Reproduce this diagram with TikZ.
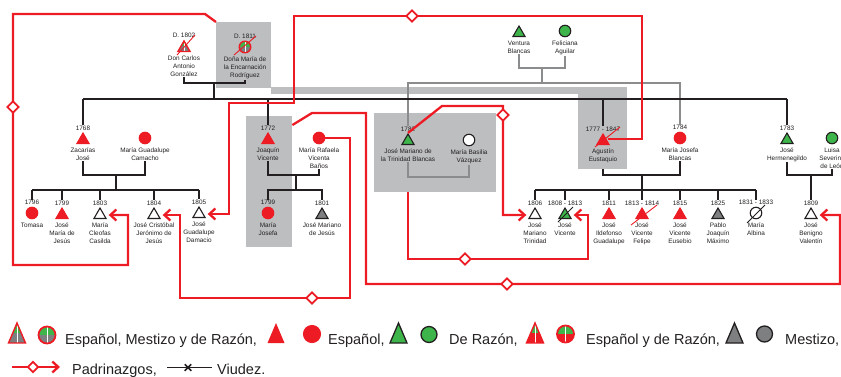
\documentclass[tikz,border=0pt]{standalone}
\usepackage{fontspec}
\setmainfont{Liberation Sans}
\usetikzlibrary{shapes.geometric,shapes.misc,arrows.meta}

\definecolor{rojo}{HTML}{ED1C24}
\definecolor{verde}{HTML}{3DB54A}
\definecolor{gris}{HTML}{7D7F81}
\definecolor{cajagris}{HTML}{BCBEC0}
\definecolor{grislinea}{HTML}{8A8C8E}
\definecolor{tinta}{HTML}{231F20}

\tikzset{
	simbolo/.style={draw=tinta, line width=1.1pt, inner sep=0pt},
	hombre/.style={simbolo, regular polygon, regular polygon sides=3, minimum size=14pt},
	mujer/.style={simbolo, circle, minimum size=11.5pt},
	espanol/.style={fill=rojo, draw=rojo},
	razon/.style={fill=verde},
	mestizo/.style={fill=gris},
	blanco/.style={fill=white},
	mitad/.style 2 args={draw=rojo, line width=1.4pt, path picture={
		\fill[#1] (path picture bounding box.north west) rectangle (path picture bounding box.east);
		\fill[#2] (path picture bounding box.west) rectangle (path picture bounding box.south east);
		\draw[white, line width=0.3pt] (path picture bounding box.north) -- (path picture bounding box.south);}},
	texto/.style={font=\fontsize{6.4}{7.8}\selectfont, text=tinta, inner sep=0.6pt},
	anio/.style={texto, yshift=1pt},
	nombre/.style={texto, align=center, yshift=-3pt},
	caja/.style={fill=cajagris, anchor=north west, inner sep=0pt},
	linea/.style={draw=tinta, line width=1.3pt},
	lineagris/.style={draw=grislinea, line width=1.2pt},
	padrino/.style={draw=rojo, line width=2.3pt},
	flecha/.style={-{Straight Barb[length=6pt,width=11pt]}},
	rombo/.style={diamond, aspect=1, draw=rojo, fill=white, line width=1.8pt, minimum size=12pt, inner sep=0pt},
	muerte/.style={line width=0.9pt},
	leyenda/.style={font=\fontsize{14.5}{17}\selectfont, text=tinta, inner sep=0pt, anchor=base west}
}

\begin{document}
\begin{tikzpicture}[x=1pt, y=-1pt]
	\useasboundingbox (0,0) rectangle (841,376);

	% cajas grises
	\node[caja, minimum width=55pt, minimum height=66pt] (cajaDona) at (216,22) {};
	\node[caja, minimum width=46pt, minimum height=131pt] (cajaJoaq) at (246,116) {};
	\node[caja, minimum width=122pt, minimum height=79pt] (cajaJMB) at (374,113) {};
	\node[caja, minimum width=49pt, minimum height=82pt] (cajaAgus) at (578,87) {};
	\fill[cajagris] (271,87) rectangle (578,94);

	% abuelos
	\node[hombre, mitad={verde}{gris}, label={[anio,name=carlos-y]above:D. 1802}, label={[nombre,name=carlos-n]below:Don Carlos\\Antonio\\González}] (carlos) at (184,48) {};
	\node[mujer, mitad={verde}{gris}, label={[anio,name=dona-y]above:D. 1811}, label={[nombre,name=dona-n]below:Doña María de\\la Encarnación\\Rodríguez}] (dona) at (245,47) {};
	\node[hombre, razon, label={[nombre,name=ventura-n]below:Ventura\\Blancas}] (ventura) at (519,33) {};
	\node[mujer, razon, label={[nombre,name=feliciana-n]below:Feliciana\\Aguilar}] (feliciana) at (565,31) {};

	% padres
	\node[hombre, espanol, label={[anio,name=zac-y]above:1768}, label={[nombre,name=zac-n]below:Zacarías\\José}] (zac) at (83,140) {};
	\node[mujer, espanol, label={[nombre,name=guad-n]below:María Guadalupe\\Camacho}] (guad) at (145,138) {};
	\node[hombre, espanol, label={[anio,name=joaq-y]above:1772}, label={[nombre,name=joaq-n]below:Joaquín\\Vicente}] (joaq) at (268,140) {};
	\node[mujer, espanol, label={[nombre,name=rafa-n]below:María Rafaela\\Vicenta\\Baños}] (rafa) at (319,138) {};
	\node[hombre, razon, label={[anio,name=jmb-y]above:1782}, label={[nombre,name=jmb-n]below:José Mariano de\\la Trinidad Blancas}] (jmb) at (408,141) {};
	\node[mujer, blanco, label={[nombre,name=basilia-n]below:María Basilia\\Vázquez}] (basilia) at (469,140) {};
	\node[hombre, espanol, label={[anio,name=agus-y]above:1777 - 1847}, label={[nombre,name=agus-n]below:Agustín\\Eustaquio}] (agus) at (603,141) {};
	\node[mujer, espanol, label={[anio,name=mjb-y]above:1784}, label={[nombre,name=mjb-n]below:María Josefa\\Blancas}] (mjb) at (680,138) {};
	\node[hombre, razon, label={[anio,name=herm-y]above:1783}, label={[nombre,name=herm-n]below:José\\Hermenegildo}] (herm) at (787,140) {};
	\node[mujer, razon, label={[nombre,name=luisa-n]below:Luisa\\Severina\\de León}] (luisa) at (832,138) {};

	% hijos
	\node[mujer, espanol, label={[anio,name=tomasa-y]above:1796}, label={[nombre,name=tomasa-n]below:Tomasa}] (tomasa) at (32,213) {};
	\node[hombre, espanol, label={[anio,name=jmaria-y]above:1799}, label={[nombre,name=jmaria-n]below:José\\María de\\Jesús}] (jmaria) at (62,215) {};
	\node[hombre, blanco, label={[anio,name=cleofas-y]above:1803}, label={[nombre,name=cleofas-n]below:María\\Cleofas\\Casilda}] (cleofas) at (100,215) {};
	\node[hombre, blanco, label={[anio,name=cristobal-y]above:1804}, label={[nombre,name=cristobal-n]below:José Cristóbal\\Jerónimo de\\Jesús}] (cristobal) at (154,215) {};
	\node[hombre, blanco, label={[anio,name=damacio-y]above:1805}, label={[nombre,name=damacio-n]below:José\\Guadalupe\\Damacio}] (damacio) at (199,214) {};
	\node[mujer, espanol, label={[anio,name=mjosefa-y]above:1799}, label={[nombre,name=mjosefa-n]below:María\\Josefa}] (mjosefa) at (268,213) {};
	\node[hombre, mestizo, label={[anio,name=jmjesus-y]above:1801}, label={[nombre,name=jmjesus-n]below:José Mariano\\de Jesús}] (jmjesus) at (322,215) {};
	\node[hombre, blanco, label={[anio,name=jmtrin-y]above:1806}, label={[nombre,name=jmtrin-n]below:José\\Mariano\\Trinidad}] (jmtrin) at (535,215) {};
	\node[hombre, razon, label={[anio,name=jvic-y]above:1808 - 1813}, label={[nombre,name=jvic-n]below:José\\Vicente}] (jvic) at (565,215) {};
	\node[hombre, espanol, label={[anio,name=ilde-y]above:1811}, label={[nombre,name=ilde-n]below:José\\Ildefonso\\Guadalupe}] (ilde) at (609,215) {};
	\node[hombre, espanol, label={[anio,name=felipe-y]above:1813 - 1814}, label={[nombre,name=felipe-n]below:José\\Vicente\\Felipe}] (felipe) at (642,215) {};
	\node[hombre, espanol, label={[anio,name=eusebio-y]above:1815}, label={[nombre,name=eusebio-n]below:José\\Vicente\\Eusebio}] (eusebio) at (680,215) {};
	\node[hombre, mestizo, label={[anio,name=pablo-y]above:1825}, label={[nombre,name=pablo-n]below:Pablo\\Joaquín\\Máximo}] (pablo) at (718,215) {};
	\node[mujer, blanco, label={[anio,name=albina-y]above:1831 - 1833}, label={[nombre,name=albina-n]below:María\\Albina}] (albina) at (756,213) {};
	\node[hombre, blanco, label={[anio,name=benigno-y]above:1809}, label={[nombre,name=benigno-n]below:José\\Benigno\\Valentín}] (benigno) at (811,215) {};

	% parentesco
	\coordinate (m0b) at (542,68);
	\coordinate (s0b) at (542,83);
	\draw[lineagris] (ventura-n.south) |- (m0b) -| (feliciana-n.south);
	\draw[lineagris] (m0b) -- (s0b);
	\draw[lineagris] (jmb-y.north) |- (s0b) -| (mjb-y.north);
	\coordinate (m3) at (438,177);
	\draw[lineagris] (jmb-n.south) |- (m3) -| (basilia-n.south);

	\coordinate (m0) at (214,83);
	\coordinate (s0) at (214,99);
	\draw[linea] (carlos-n.south) |- (m0) -| (dona-n.south);
	\draw[linea] (m0) -- (s0);
	\draw[linea] (zac-y.north |- s0) -- (herm-y.north |- s0);
	\foreach \h in {zac,joaq,agus,herm}
		\draw[linea] (\h-y.north |- s0) -- (\h-y.north);

	\coordinate (m1) at (116,175);
	\coordinate (s1) at (116,190);
	\draw[linea] (zac-n.south) |- (m1) -| (guad-n.south);
	\draw[linea] (m1) -- (s1);
	\draw[linea] (tomasa-y.north |- s1) -- (damacio-y.north |- s1);
	\foreach \h in {tomasa,jmaria,cleofas,cristobal,damacio}
		\draw[linea] (\h-y.north |- s1) -- (\h-y.north);

	\coordinate (m2) at (296,175);
	\coordinate (s2) at (296,190);
	\draw[linea] (joaq-n.south) |- (m2) -| (rafa-n.south);
	\draw[linea] (m2) -- (s2);
	\draw[linea] (mjosefa-y.north) |- (s2) -| (jmjesus-y.north);

	\coordinate (m4) at (642,175);
	\coordinate (s4) at (642,190);
	\draw[linea] (agus |- cajaAgus.south) |- (m4) -| (mjb-n.south);
	\draw[linea] (m4) -- (s4);
	\draw[linea] (jmtrin-y.north |- s4) -- (albina-y.north |- s4);
	\foreach \h in {jmtrin,jvic,ilde,felipe,eusebio,pablo,albina}
		\draw[linea] (\h-y.north |- s4) -- (\h-y.north);

	\coordinate (m5) at (811,175);
	\draw[linea] (herm-n.south) |- (m5) -| (luisa-n.south);
	\draw[linea] (m5) -- (benigno-y.north);

	% padrinazgos
	\draw[padrino, flecha] (cajaDona.north west) -- (205,14) -| (13,265) -| (128,0 |- cleofas.east) -- ([xshift=4pt]cleofas.east);
	\draw[padrino, flecha] ([yshift=2pt]agus.east) -| (642,16) -| (294,103) -| (229,0 |- damacio.east) -- ([xshift=4pt]damacio.east);
	\draw[padrino, flecha] (rafa.east) -| (350,298) -| (180,0 |- cristobal.east) -- ([xshift=4pt]cristobal.east);
	\draw[padrino, flecha] ([yshift=-9pt]cajaJoaq.north east) -- (312,113) -| (366,284) -| (840,0 |- benigno.east) -- ([xshift=4pt]benigno.east);
	\draw[padrino, flecha] (jmb.north) -- (442,106) -| (503,0 |- jmtrin.west) -- ([xshift=-4pt]jmtrin.west);
	\draw[padrino, flecha] (jmb |- cajaJMB.south) |- (588,259) -- (588,0 |- jvic.east) -- ([xshift=4pt]jvic.east);
	\foreach \p [count=\i] in {(13,107),(412,16),(312,298),(507,284),(503,115),(465,259)}
		\node[rombo] (r\i) at \p {};

	% defunciones
	\draw[muerte, rojo] ([shift={(-7,7)}]carlos.center) -- ([shift={(11,-13)}]carlos.center);
	\draw[muerte, rojo] ([shift={(-11,8)}]dona.center) -- ([shift={(11,-11)}]dona.center);
	\draw[muerte, rojo] ([shift={(-8,6)}]agus.center) -- ([shift={(17,-14)}]agus.center);
	\draw[muerte, tinta] ([shift={(-7,7)}]jvic.center) -- ([shift={(8,-8)}]jvic.center);
	\draw[muerte, rojo] ([shift={(-11,10)}]felipe.center) -- ([shift={(15,-10)}]felipe.center);
	\draw[muerte, tinta] ([shift={(-9,10)}]albina.center) -- ([shift={(9,-8)}]albina.center);

	% leyenda
	\draw[mitad={verde}{gris}] (8.5,343) -- (17,323) -- (25.5,343) -- cycle;
	\node[mujer, mitad={verde}{gris}, minimum size=17pt, line width=1.8pt] (ley1) at (47,335) {};
	\node[leyenda] (tley1) at (65,344) {Español, Mestizo y de Razón,};
	\fill[rojo] (267.5,343) -- (276,323) -- (284.5,343) -- cycle;
	\node[mujer, espanol, minimum size=17pt] (ley2) at (312,334) {};
	\node[leyenda] (tley2) at (328,344) {Español,};
	\draw[simbolo, line width=1.3pt, fill=verde] (390,343) -- (398.5,323) -- (407,343) -- cycle;
	\node[mujer, razon, minimum size=16pt, line width=1.3pt] (ley3) at (429,334.5) {};
	\node[leyenda] (tley3) at (449,344) {De Razón,};
	\draw[mitad={verde}{rojo}] (526.5,343) -- (535,323) -- (543.5,343) -- cycle;
	\node[mujer, mitad={verde}{rojo}, minimum size=17pt, line width=1.8pt] (ley4) at (565.5,334) {};
	\node[leyenda] (tley4) at (586,344) {Español y de Razón,};
	\draw[simbolo, line width=1.3pt, fill=gris] (726,343) -- (734.5,323) -- (743,343) -- cycle;
	\node[mujer, mestizo, minimum size=16pt, line width=1.3pt] (ley5) at (764.5,334) {};
	\node[leyenda] (tley5) at (785,344) {Mestizo,};

	\coordinate (lp1) at (12,367);
	\coordinate (lp2) at (60,367);
	\draw[padrino, flecha] (lp1) -- (lp2);
	\node[rombo, minimum size=11pt] (ley6) at (33,367) {};
	\node[leyenda] (tley6) at (72,374) {Padrinazgos,};
	\coordinate (lv1) at (167,367.5);
	\coordinate (lv2) at (212,367.5);
	\draw[linea, line width=1.6pt] (lv1) -- (lv2);
	\node[cross out, draw=tinta, line width=1.5pt, minimum size=5pt, inner sep=0pt] (ley7) at (188,367.5) {};
	\node[leyenda] (tley7) at (217,374) {Viudez.};
\end{tikzpicture}
\end{document}
